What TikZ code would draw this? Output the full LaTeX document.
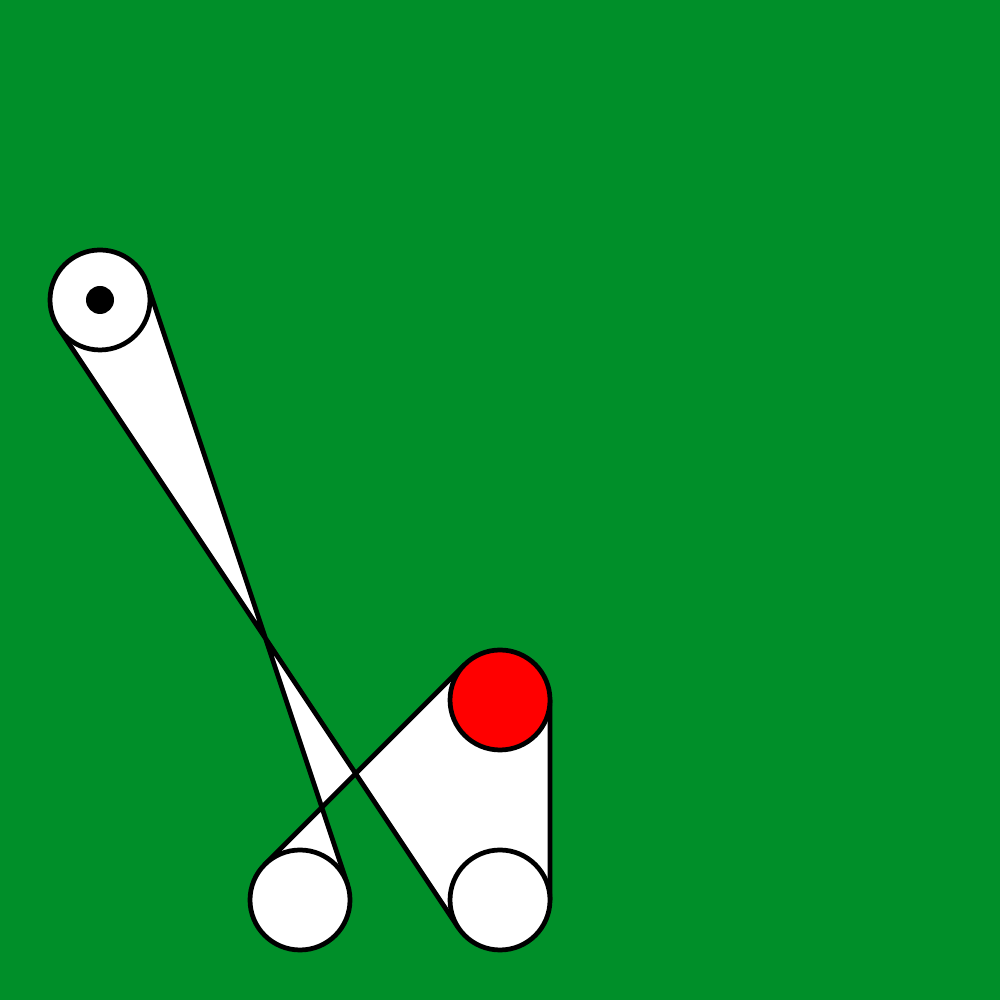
\documentclass[tikz,border=0pt]{standalone}
\usetikzlibrary{calc}
\definecolor{lawn}{RGB}{0,143,41}
\begin{document}
\begin{tikzpicture}[line width=1.35pt]
    \coordinate (A) at (1,7);
    \coordinate (B) at (5,3);
    \coordinate (C) at (3,1);
    \coordinate (D) at (5,1);

    \fill[lawn] (0,0) rectangle (10,10);

    % belt
    \draw[fill=white,even odd rule,line join=round]
        ($(A)!0.5cm!90:(C)$) -- ($(C)!0.5cm!-90:(A)$)
        -- ($(C)!0.5cm!90:(B)$) -- ($(B)!0.5cm!-90:(C)$)
        -- ($(B)!0.5cm!90:(D)$) -- ($(D)!0.5cm!-90:(B)$)
        -- ($(D)!0.5cm!90:(A)$) -- ($(A)!0.5cm!-90:(D)$) -- cycle;

    \draw[fill=white] (A) circle (0.5);
    \draw[fill=red] (B) circle (0.5);
    \draw[fill=white] (C) circle (0.5);
    \draw[fill=white] (D) circle (0.5);
    \fill (A) circle (0.14);
\end{tikzpicture}
\end{document}
